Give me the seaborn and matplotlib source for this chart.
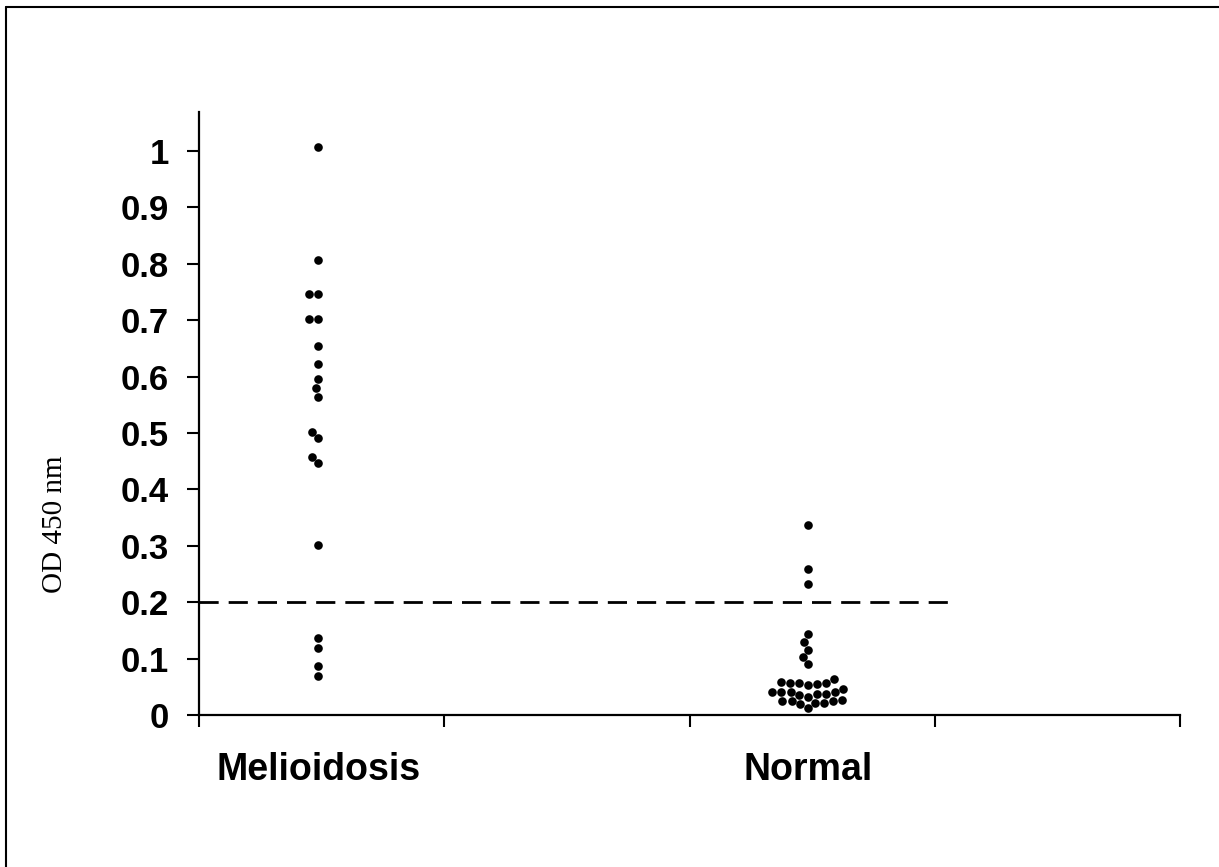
import numpy as np
import pandas as pd
import matplotlib
matplotlib.use("Agg")
import matplotlib.pyplot as plt
import seaborn as sns
from matplotlib.lines import Line2D

# ---- data ----
categories = ["Melioidosis", "Normal"]
melioidosis_od = [1.007, 0.807, 0.747, 0.747, 0.702, 0.702, 0.654, 0.623, 0.595,
                  0.579, 0.564, 0.502, 0.491, 0.458, 0.446, 0.301, 0.136, 0.118,
                  0.086, 0.069]
normal_od = [0.337, 0.258, 0.232, 0.144, 0.130, 0.116, 0.103, 0.090,
             0.053, 0.057, 0.057, 0.063, 0.057, 0.059, 0.055,
             0.037, 0.040, 0.040, 0.046, 0.040, 0.040, 0.035, 0.037,
             0.027, 0.022, 0.024, 0.032, 0.022, 0.025, 0.025, 0.019,
             0.012]
cutoff = 0.2
y_ticks = [0, 0.1, 0.2, 0.3, 0.4, 0.5, 0.6, 0.7, 0.8, 0.9, 1.0]
y_label = "OD 450 nm"

df = pd.DataFrame({
    "group": [categories[0]] * len(melioidosis_od) + [categories[1]] * len(normal_od),
    "od": melioidosis_od + normal_od,
})

sns.set_theme(style="white")
plt.rcParams["font.family"] = ["Liberation Sans", "DejaVu Sans"]

W, H = 1219, 867
fig = plt.figure(figsize=(W / 100, H / 100), dpi=100)
ax = fig.add_axes([199 / W, 152 / H, (1180 - 199) / W, (715 - 112) / H])

sns.swarmplot(data=df, x="group", y="od", order=categories, ax=ax,
              color="black", size=6.2, linewidth=0)

ax.set_ylim(0, 1.069)
xl = (-0.243, 1.759)
ax.set_xlim(*xl)

# dashed cut-off line
ln = ax.axhline(cutoff, xmin=0, xmax=0.766, color="black", lw=2)
ln.set_dashes((6.9, 3.6))

# spines
for s in ["top", "right"]:
    ax.spines[s].set_visible(False)
for s in ["left", "bottom"]:
    ax.spines[s].set_color("black")
    ax.spines[s].set_linewidth(1.6)

# y ticks
ax.set_yticks(y_ticks)
ax.set_yticklabels(["%g" % v for v in y_ticks], fontsize=25, fontweight="bold")
ax.tick_params(axis="y", direction="out", length=8.5, width=1.5, pad=13,
               colors="black", left=True)

# x ticks: major at boundaries, category labels as minor ticks
ax.set_xticks(np.linspace(xl[0], xl[1], 5))
ax.set_xticklabels([])
ax.tick_params(axis="x", which="major", direction="out", length=8.5, width=1.5,
               colors="black", bottom=True)
ax.set_xticks([0, 1], minor=True)
ax.set_xticklabels(categories, minor=True, fontsize=27, fontweight="bold")
ax.tick_params(axis="x", which="minor", length=0, pad=27, colors="black")
ax.set_xlabel("")

ax.set_ylabel(y_label, fontsize=21, family=["Liberation Serif", "DejaVu Serif"],
              color="black")
ax.yaxis.label.set_va("center")
ax.yaxis.set_label_coords(-0.147, 0.317)

ax.set_facecolor("white")
fig.patch.set_facecolor("white")

# frame lines of the original scan (left and top edges)
fig.add_artist(Line2D([6 / W, 6 / W], [0, 1 - 7 / H], transform=fig.transFigure,
                      color="black", lw=1.5))
fig.add_artist(Line2D([6 / W, 1], [1 - 7 / H, 1 - 7 / H], transform=fig.transFigure,
                      color="black", lw=1.5))

fig.savefig("out.png", dpi=100)
